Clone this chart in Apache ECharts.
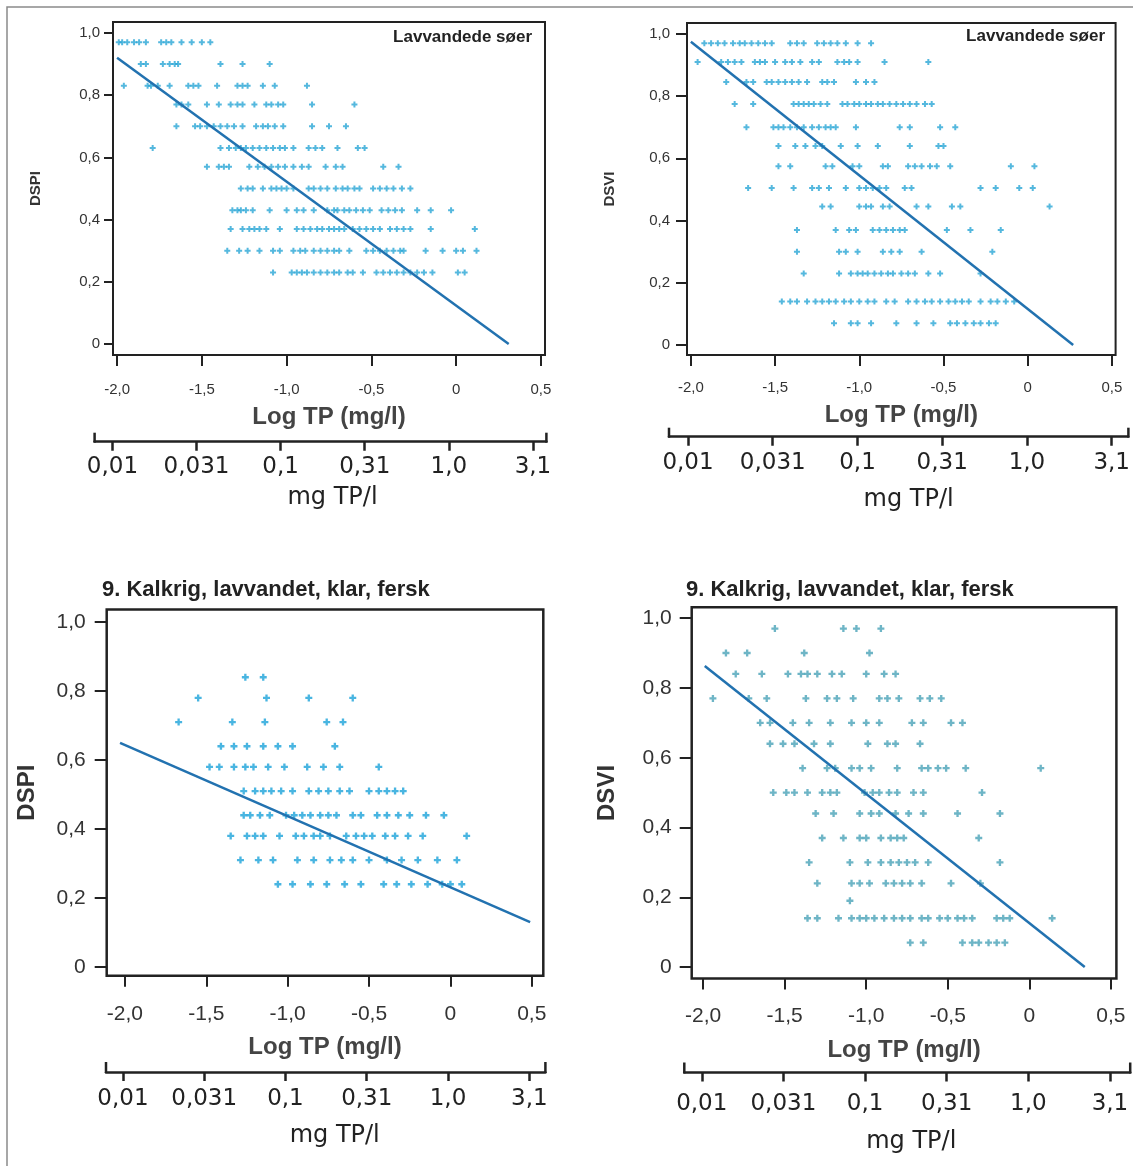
<!DOCTYPE html>
<html>
<head>
<meta charset="utf-8">
<title>DSPI / DSVI mod Log TP</title>
<script src="https://cdn.jsdelivr.net/npm/echarts@6/dist/echarts.min.js"></script>
<style>
    html, body { margin: 0; padding: 0; background: #fff; }
    #chart { width: 1133px; height: 1166px; }
</style>
</head>
<body>
<div id="chart"></div>
<script>
    // axis ticks
    const logTicks = [-2, -1.5, -1, -0.5, 0, 0.5];
    const logTickLabels = ['-2,0', '-1,5', '-1,0', '-0,5', '0', '0,5'];
    const indexTicks = [0, 0.2, 0.4, 0.6, 0.8, 1.0];
    const indexTickLabels = ['0', '0,2', '0,4', '0,6', '0,8', '1,0'];
    const tpLabels = ['0,01', '0,031', '0,1', '0,31', '1,0', '3,1'];

    // top left: DSPI, Lavvandede søer  -> [DSPI, [log TP ...]]
    const dspiLakeRows = [
        [0.97, [-1.99, -1.97, -1.94, -1.90, -1.87, -1.83, -1.74, -1.71, -1.68, -1.62, -1.56, -1.50, -1.45]],
        [0.90, [-1.86, -1.83, -1.73, -1.69, -1.66, -1.64, -1.39, -1.26, -1.10]],
        [0.83, [-1.96, -1.82, -1.80, -1.76, -1.69, -1.58, -1.55, -1.52, -1.41, -1.29, -1.26, -1.23, -1.14, -1.07, -0.88]],
        [0.77, [-1.65, -1.62, -1.58, -1.47, -1.40, -1.33, -1.29, -1.26, -1.19, -1.12, -1.09, -1.05, -1.02, -0.85, -0.60]],
        [0.70, [-1.65, -1.54, -1.51, -1.47, -1.43, -1.39, -1.35, -1.31, -1.26, -1.18, -1.14, -1.11, -1.07, -1.02, -0.85, -0.75, -0.65]],
        [0.63, [-1.79, -1.39, -1.34, -1.30, -1.27, -1.24, -1.20, -1.16, -1.12, -1.08, -1.04, -1.01, -0.96, -0.87, -0.83, -0.79, -0.70, -0.58, -0.54]],
        [0.57, [-1.47, -1.40, -1.37, -1.34, -1.22, -1.17, -1.13, -1.09, -1.05, -1.01, -0.96, -0.91, -0.87, -0.77, -0.71, -0.67, -0.43, -0.34]],
        [0.50, [-1.27, -1.23, -1.20, -1.14, -1.09, -1.06, -1.03, -1.00, -0.96, -0.87, -0.84, -0.80, -0.76, -0.71, -0.67, -0.64, -0.60, -0.57, -0.49, -0.45, -0.41, -0.37, -0.32, -0.27]],
        [0.43, [-1.32, -1.29, -1.27, -1.24, -1.20, -1.10, -1.00, -0.94, -0.90, -0.84, -0.76, -0.72, -0.70, -0.66, -0.63, -0.59, -0.55, -0.51, -0.44, -0.40, -0.36, -0.32, -0.23, -0.15, -0.03]],
        [0.37, [-1.33, -1.26, -1.22, -1.19, -1.16, -1.12, -1.04, -0.94, -0.90, -0.86, -0.82, -0.79, -0.75, -0.72, -0.69, -0.66, -0.61, -0.57, -0.53, -0.49, -0.45, -0.39, -0.35, -0.31, -0.27, -0.15, 0.11]],
        [0.30, [-1.35, -1.28, -1.23, -1.16, -1.08, -1.04, -0.96, -0.92, -0.89, -0.84, -0.80, -0.76, -0.72, -0.69, -0.63, -0.53, -0.49, -0.45, -0.41, -0.37, -0.33, -0.31, -0.18, -0.08, 0.00, 0.04, 0.12]],
        [0.23, [-1.08, -0.97, -0.94, -0.91, -0.88, -0.84, -0.80, -0.76, -0.72, -0.69, -0.64, -0.61, -0.55, -0.47, -0.43, -0.39, -0.35, -0.31, -0.27, -0.23, -0.19, -0.14, 0.01, 0.05]]
    ];
    const dspiLakeFit = [[-2.0, 0.92], [0.31, 0]];

    // top right: DSVI, Lavvandede søer
    const dsviLakeRows = [
        [0.97, [-1.92, -1.88, -1.84, -1.80, -1.75, -1.71, -1.68, -1.64, -1.60, -1.56, -1.52, -1.41, -1.37, -1.33, -1.25, -1.21, -1.17, -1.13, -1.08, -1.01, -0.93]],
        [0.91, [-1.96, -1.82, -1.78, -1.74, -1.70, -1.62, -1.59, -1.56, -1.50, -1.44, -1.40, -1.35, -1.28, -1.24, -1.13, -1.09, -1.06, -1.01, -0.85, -0.59]],
        [0.845, [-1.79, -1.67, -1.63, -1.55, -1.52, -1.48, -1.44, -1.40, -1.36, -1.31, -1.22, -1.19, -1.15, -1.02, -0.96, -0.91]],
        [0.775, [-1.74, -1.63, -1.39, -1.36, -1.33, -1.30, -1.27, -1.23, -1.19, -1.10, -1.07, -1.03, -1.00, -0.96, -0.93, -0.89, -0.86, -0.82, -0.78, -0.74, -0.70, -0.66, -0.61, -0.57]],
        [0.70, [-1.67, -1.51, -1.48, -1.45, -1.41, -1.37, -1.33, -1.28, -1.24, -1.20, -1.17, -1.14, -1.02, -0.76, -0.70, -0.52, -0.43]],
        [0.64, [-1.48, -1.38, -1.32, -1.26, -1.22, -1.11, -1.01, -0.89, -0.70, -0.53, -0.50]],
        [0.575, [-1.48, -1.41, -1.20, -1.16, -1.04, -1.00, -0.86, -0.83, -0.71, -0.67, -0.63, -0.58, -0.54, -0.46, -0.10, 0.04]],
        [0.505, [-1.66, -1.52, -1.39, -1.28, -1.24, -1.18, -1.08, -1.00, -0.96, -0.92, -0.88, -0.84, -0.73, -0.69, -0.28, -0.19, -0.05, 0.03]],
        [0.445, [-1.22, -1.17, -1.00, -0.96, -0.93, -0.86, -0.82, -0.66, -0.59, -0.45, -0.40, 0.13]],
        [0.37, [-1.37, -1.14, -1.06, -1.02, -0.92, -0.88, -0.84, -0.80, -0.76, -0.73, -0.48, -0.34, -0.16]],
        [0.30, [-1.37, -1.12, -1.08, -1.01, -0.86, -0.81, -0.76, -0.63, -0.21]],
        [0.23, [-1.33, -1.12, -1.05, -1.01, -0.98, -0.95, -0.91, -0.87, -0.83, -0.80, -0.75, -0.71, -0.67, -0.59, -0.52, -0.28]],
        [0.14, [-1.46, -1.41, -1.37, -1.31, -1.26, -1.22, -1.18, -1.14, -1.09, -1.05, -1.00, -0.95, -0.91, -0.84, -0.79, -0.71, -0.66, -0.61, -0.57, -0.52, -0.47, -0.43, -0.39, -0.35, -0.28, -0.22, -0.18, -0.13, -0.08]],
        [0.07, [-1.15, -1.05, -1.01, -0.93, -0.78, -0.66, -0.56, -0.46, -0.42, -0.37, -0.32, -0.28, -0.23, -0.19]]
    ];
    const dsviLakeFit = [[-2.0, 0.975], [0.27, 0]];

    // bottom left: DSPI, 9. Kalkrig, lavvandet, klar, fersk
    const dspiType9Rows = [
        [0.84, [-1.26, -1.15]],
        [0.78, [-1.55, -1.13, -0.87, -0.60]],
        [0.71, [-1.67, -1.34, -1.14, -0.76, -0.66]],
        [0.64, [-1.41, -1.33, -1.25, -1.15, -1.06, -0.97, -0.71]],
        [0.58, [-1.48, -1.42, -1.33, -1.26, -1.21, -1.12, -1.02, -0.88, -0.78, -0.68, -0.44]],
        [0.51, [-1.27, -1.20, -1.15, -1.10, -1.04, -0.97, -0.87, -0.81, -0.75, -0.68, -0.62, -0.50, -0.44, -0.39, -0.34, -0.29]],
        [0.44, [-1.27, -1.23, -1.17, -1.11, -1.01, -0.96, -0.91, -0.86, -0.80, -0.75, -0.70, -0.60, -0.55, -0.45, -0.39, -0.32, -0.25, -0.15, -0.04]],
        [0.38, [-1.35, -1.25, -1.20, -1.15, -1.05, -0.95, -0.90, -0.84, -0.80, -0.74, -0.64, -0.58, -0.53, -0.48, -0.40, -0.34, -0.26, -0.17, 0.10]],
        [0.31, [-1.29, -1.18, -1.09, -0.94, -0.84, -0.74, -0.67, -0.60, -0.50, -0.39, -0.30, -0.20, -0.08, 0.04]],
        [0.24, [-1.06, -0.97, -0.86, -0.76, -0.65, -0.55, -0.41, -0.33, -0.24, -0.14, -0.05, 0.00, 0.07]]
    ];
    const dspiType9Fit = [[-2.03, 0.65], [0.49, 0.13]];

    // bottom right: DSVI, 9. Kalkrig, lavvandet, klar, fersk
    const dsviType9Rows = [
        [0.97, [-1.56, -1.14, -1.06, -0.91]],
        [0.90, [-1.86, -1.73, -1.38, -0.98]],
        [0.84, [-1.80, -1.64, -1.48, -1.40, -1.36, -1.30, -1.21, -1.15, -1.00, -0.89, -0.82]],
        [0.77, [-1.94, -1.72, -1.61, -1.37, -1.24, -1.18, -1.08, -0.92, -0.87, -0.80, -0.67, -0.61, -0.54]],
        [0.70, [-1.65, -1.59, -1.45, -1.35, -1.22, -1.09, -1.00, -0.92, -0.72, -0.65, -0.48, -0.41]],
        [0.64, [-1.59, -1.51, -1.44, -1.32, -1.22, -0.99, -0.87, -0.82, -0.67]],
        [0.57, [-1.39, -1.24, -1.19, -1.09, -1.04, -0.97, -0.81, -0.66, -0.62, -0.56, -0.51, -0.39, 0.07]],
        [0.50, [-1.57, -1.49, -1.44, -1.36, -1.27, -1.22, -1.18, -1.01, -0.96, -0.92, -0.86, -0.81, -0.71, -0.65, -0.29]],
        [0.44, [-1.31, -1.20, -1.04, -0.97, -0.92, -0.82, -0.74, -0.65, -0.44, -0.18]],
        [0.37, [-1.27, -1.14, -1.04, -1.00, -0.91, -0.85, -0.81, -0.77, -0.31]],
        [0.30, [-1.35, -1.10, -0.99, -0.91, -0.85, -0.80, -0.75, -0.70, -0.62, -0.18]],
        [0.24, [-1.30, -1.09, -1.04, -0.98, -0.88, -0.83, -0.78, -0.73, -0.66, -0.48, -0.30]],
        [0.19, [-1.10]],
        [0.14, [-1.36, -1.30, -1.17, -1.09, -1.04, -1.00, -0.95, -0.89, -0.83, -0.78, -0.73, -0.66, -0.62, -0.55, -0.50, -0.44, -0.40, -0.35, -0.20, -0.16, -0.12, 0.14]],
        [0.07, [-0.73, -0.65, -0.41, -0.35, -0.31, -0.25, -0.20, -0.15]]
    ];
    const dsviType9Fit = [[-1.99, 0.863], [0.34, 0]];

    const lakeTitle = 'Lavvandede søer';
    const typeTitle = '9. Kalkrig, lavvandet, klar, fersk';

    // layout per panel
    const panels = [
        {
            rows: dspiLakeRows, fit: dspiLakeFit, yName: 'DSPI', color: '#2aa6d6', size: 6,
            grid: {left: 113, top: 22, width: 432, height: 333}, xr: [-2.024, 0.524], yr: [-0.035, 1.035],
            tickFont: 15, yTickLen: 9, yLabelMargin: 13, xTickLen: 11, xLabelMargin: 27,
            nameFont: 24, nameGap: 50, yNameFont: 15, yNameGap: 70, border: 2,
            bracket: {left: 94.6, line: 441.7, width: 451.8, xr: [-2.106, 0.580], margin: 14, gap: 44, pad: 24, cap: 9}
        },
        {
            rows: dsviLakeRows, fit: dsviLakeFit, yName: 'DSVI', color: '#2aa6d6', size: 6,
            grid: {left: 687, top: 23, width: 428.6, height: 332}, xr: [-2.023, 0.522], yr: [-0.032, 1.035],
            tickFont: 15, yTickLen: 11, yLabelMargin: 17, xTickLen: 11, xLabelMargin: 25,
            nameFont: 24, nameGap: 48, yNameFont: 15, yNameGap: 70, border: 2,
            bracket: {left: 669, line: 436.7, width: 459.4, xr: [-2.112, 0.597], margin: 15, gap: 51, pad: 20, cap: 9}
        },
        {
            rows: dspiType9Rows, fit: dspiType9Fit, yName: 'DSPI', color: '#1ca3d9', size: 7,
            grid: {left: 106.7, top: 609.6, width: 436.6, height: 366.1}, xr: [-2.112, 0.571], yr: [-0.025, 1.036],
            tickFont: 21, yTickLen: 12, yLabelMargin: 21, xTickLen: 11, xLabelMargin: 28,
            nameFont: 24, nameGap: 60, yNameFont: 24, yNameGap: 67, border: 2.5,
            bracket: {left: 106, line: 1072, width: 439.4, xr: [-2.104, 0.599], margin: 16, gap: 52, pad: 18, cap: 10}
        },
        {
            rows: dsviType9Rows, fit: dsviType9Fit, yName: 'DSVI', color: '#4aa3b8', size: 7,
            grid: {left: 691.7, top: 607.3, width: 424.7, height: 371.3}, xr: [-2.07, 0.534], yr: [-0.033, 1.031],
            tickFont: 21, yTickLen: 12, yLabelMargin: 20, xTickLen: 11, xLabelMargin: 27,
            nameFont: 24, nameGap: 60, yNameFont: 24, yNameGap: 72, border: 2.5,
            bracket: {left: 684.3, line: 1072.5, width: 445.9, xr: [-2.107, 0.624], margin: 20, gap: 57, pad: 8, cap: 10}
        }
    ];

    const plus = 'path://M2 0h2v2h2v2h-2v2h-2v-2h-2v-2h2z';
    const ink = '#222';

    function labelFor(values, labels) {
        return function (v) {
            const i = values.findIndex(t => Math.abs(t - v) < 1e-6);
            return i < 0 ? '' : labels[i];
        };
    }

    const grids = [], xAxes = [], yAxes = [], series = [], graphics = [];

    panels.forEach(function (p) {
        const gi = grids.length;
        grids.push(Object.assign({
            show: true, borderColor: ink, borderWidth: p.border, backgroundColor: 'transparent'
        }, p.grid));
        xAxes.push({
            type: 'value', gridIndex: gi, min: p.xr[0], max: p.xr[1], position: 'bottom',
            name: 'Log TP (mg/l)', nameLocation: 'middle', nameGap: p.nameGap,
            nameTextStyle: {fontFamily: 'Liberation Sans', fontWeight: 'bold', fontSize: p.nameFont, color: '#444'},
            axisLine: {show: false, onZero: false},
            axisTick: {show: true, customValues: logTicks, length: p.xTickLen, lineStyle: {color: ink, width: 2}},
            axisLabel: {
                customValues: logTicks, formatter: labelFor(logTicks, logTickLabels), margin: p.xLabelMargin,
                fontFamily: 'Liberation Sans', fontSize: p.tickFont, color: '#333'
            },
            splitLine: {show: false}
        });
        yAxes.push({
            type: 'value', gridIndex: gi, min: p.yr[0], max: p.yr[1], position: 'left',
            name: p.yName, nameLocation: 'middle', nameGap: p.yNameGap,
            nameTextStyle: {fontFamily: 'Liberation Sans', fontWeight: 'bold', fontSize: p.yNameFont, color: '#333'},
            axisLine: {show: false, onZero: false},
            axisTick: {show: true, customValues: indexTicks, length: p.yTickLen, lineStyle: {color: ink, width: 2}},
            axisLabel: {
                customValues: indexTicks, formatter: labelFor(indexTicks, indexTickLabels), margin: p.yLabelMargin,
                fontFamily: 'Liberation Sans', fontSize: p.tickFont, color: '#333'
            },
            splitLine: {show: false}
        });

        const points = [];
        p.rows.forEach(function (row) {
            row[1].forEach(function (x) { points.push([x, row[0]]); });
        });
        series.push({
            type: 'scatter', xAxisIndex: gi, yAxisIndex: gi, data: points,
            symbol: plus, symbolSize: p.size, itemStyle: {color: p.color}, silent: true
        });
        series.push({
            type: 'line', xAxisIndex: gi, yAxisIndex: gi, data: p.fit, z: 3,
            showSymbol: false, symbol: 'none', silent: true,
            lineStyle: {color: '#2272b0', width: 2.5}
        });

        // mg TP/l bracket axis below
        const b = p.bracket;
        const bi = grids.length;
        grids.push({left: b.left, top: b.line - 1, width: b.width, height: 1, show: false});
        xAxes.push({
            type: 'value', gridIndex: bi, min: b.xr[0], max: b.xr[1], position: 'bottom',
            name: 'mg TP/l', nameLocation: 'middle', nameGap: b.gap,
            nameTextStyle: {fontFamily: 'DejaVu Sans', fontSize: 24, color: '#222', padding: [0, 0, 0, b.pad]},
            axisLine: {show: true, onZero: false, lineStyle: {color: ink, width: 2.5}},
            axisTick: {show: true, customValues: logTicks, length: 9, lineStyle: {color: ink, width: 2.5}},
            axisLabel: {
                customValues: logTicks, formatter: labelFor(logTicks, tpLabels), margin: b.margin,
                fontFamily: 'DejaVu Sans', fontSize: 23, color: '#222'
            },
            splitLine: {show: false}
        });
        yAxes.push({type: 'value', gridIndex: bi, show: false});
        [b.left, b.left + b.width].forEach(function (x) {
            graphics.push({
                type: 'line', shape: {x1: x, y1: b.line + 1, x2: x, y2: b.line - b.cap},
                style: {stroke: ink, lineWidth: 2.5}
            });
        });
    });

    // outer frame
    graphics.push({
        type: 'rect', shape: {x: 7, y: 7, width: 1140, height: 1170},
        style: {fill: 'none', stroke: '#8a8a8a', lineWidth: 1.5}, z: -1
    });

    const titleStyle = {fontFamily: 'Liberation Sans', fontWeight: 'bold', color: '#222'};
    const option = {
        backgroundColor: '#fff',
        animation: false,
        title: [
            {text: lakeTitle, right: 601, top: 29, padding: 0, textStyle: Object.assign({fontSize: 17}, titleStyle)},
            {text: lakeTitle, right: 28, top: 28, padding: 0, textStyle: Object.assign({fontSize: 17}, titleStyle)},
            {text: typeTitle, left: 102, top: 579, padding: 0, textStyle: Object.assign({fontSize: 22}, titleStyle)},
            {text: typeTitle, left: 686, top: 579, padding: 0, textStyle: Object.assign({fontSize: 22}, titleStyle)}
        ],
        grid: grids,
        xAxis: xAxes,
        yAxis: yAxes,
        series: series,
        graphic: graphics
    };

    const chart = echarts.init(document.getElementById('chart'), null, {renderer: 'canvas'});
    chart.setOption(option);
</script>
</body>
</html>
